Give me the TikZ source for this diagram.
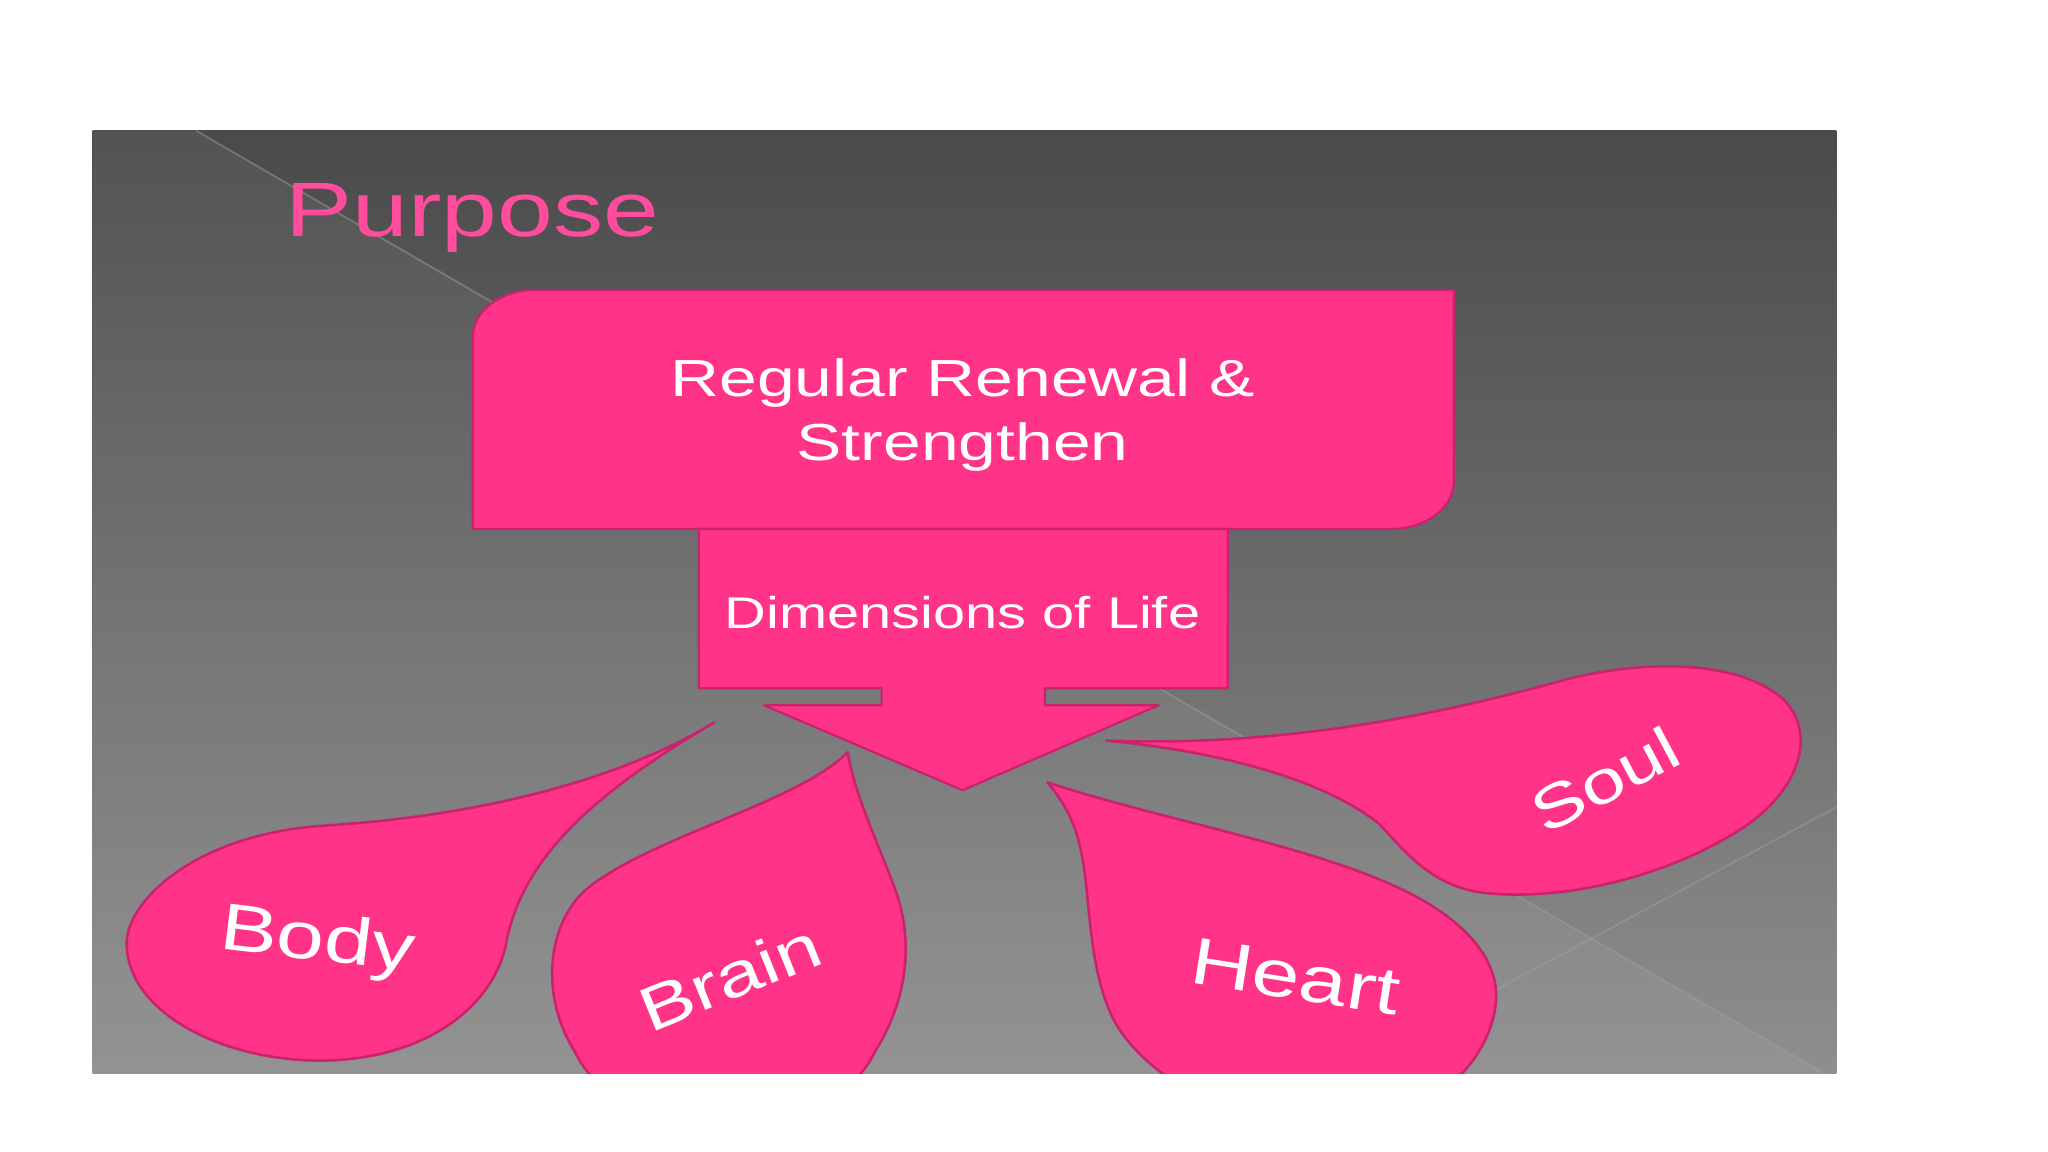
\documentclass[tikz,border=0pt]{standalone}
\usepackage{fontspec}
\setmainfont{Liberation Sans}[FakeStretch=1.3]
\definecolor{pinkfill}{HTML}{FF3388}
\definecolor{pinkline}{HTML}{C8236C}
\definecolor{titlepink}{HTML}{FF4C9C}
\definecolor{bgtop}{HTML}{4A4A4A}
\definecolor{bgbot}{HTML}{8E8E8E}
\definecolor{facet}{HTML}{A0A0A0}
\tikzset{
  shapebox/.style={fill=pinkfill, draw=pinkline, line width=0.6pt, line join=round},
  blob/.style={fill=pinkfill, draw=pinkline, line width=0.7pt, line join=round},
  boxtext/.style={text=white, align=center, font=\fontsize{14.2}{17.4}\selectfont},
  blobtext/.style={text=white, font=\fontsize{18}{20}\selectfont},
  facetline/.style={draw=facet, line width=0.5pt, opacity=0.45}
}
\begin{document}
\begin{tikzpicture}[x=0.0125cm,y=-0.0125cm]
\useasboundingbox (0,0) rectangle (1568,882);
\fill[white] (0,0) rectangle (1568,882);
% slide background
\shade[top color=bgtop, bottom color=bgbot] (71,100) rectangle (1406,822);
\fill[white, opacity=0.05] (71,100) -- (150,100) -- (1397,822) -- (71,822) -- cycle;
\draw[facetline] (150,100) -- (1397,822);
\draw[facetline] (1406,618) -- (1100,782);
% title
\node[text=titlepink, anchor=base west, font=\fontsize{21}{24}\selectfont, inner sep=0pt] (purpose) at (218,181) {Purpose};
% top box
\draw[shapebox] (410,222) -- (1113,222) -- (1113,369) .. controls (1113,389) and (1091.5,405) .. (1065,405) -- (362,405) -- (362,258) .. controls (362,238) and (383.5,222) .. (410,222) -- cycle;
\node[boxtext] (renew) at (737,318) {Regular Renewal \&\\Strengthen};
% arrow
\draw[shapebox] (535,405) -- (940,405) -- (940,527) -- (800,527) -- (800,540) -- (887,540) -- (737,605) -- (585,540) -- (675,540) -- (675,527) -- (535,527) -- cycle;
\node[boxtext, font=\fontsize{12.1}{14}\selectfont] (dims) at (737,469) {Dimensions of Life};
% drops
\begin{scope}
\clip (71,100) rectangle (1406,822);
% Body
\draw[blob] (547,553) .. controls (470,600) and (360,625) .. (250,632)
  .. controls (150,638) and (97,690) .. (97,722)
  .. controls (97,775) and (170,812) .. (245,812)
  .. controls (320,812) and (375,775) .. (387,725)
  .. controls (398,660) and (450,610) .. (547,553) -- cycle;
% Brain
\draw[blob] (649,576) .. controls (610,615) and (500,640) .. (450,680)
  .. controls (420,705) and (412,760) .. (440,805)
  .. controls (475,880) and (635,880) .. (670,805)
  .. controls (695,765) and (700,720) .. (685,680)
  .. controls (670,640) and (655,610) .. (649,576) -- cycle;
% Heart
\draw[blob] (802,599) .. controls (880,625) and (990,645) .. (1060,675)
  .. controls (1120,700) and (1150,735) .. (1145,770)
  .. controls (1140,810) and (1100,860) .. (1020,862)
  .. controls (940,862) and (880,825) .. (855,785)
  .. controls (835,750) and (835,700) .. (830,665)
  .. controls (825,630) and (815,615) .. (802,599) -- cycle;
% Soul
\draw[blob] (847,567) .. controls (980,572) and (1100,548) .. (1200,520)
  .. controls (1260,505) and (1330,505) .. (1365,535)
  .. controls (1390,560) and (1380,600) .. (1340,630)
  .. controls (1290,665) and (1210,690) .. (1140,684)
  .. controls (1095,680) and (1075,650) .. (1055,630)
  .. controls (1010,595) and (930,575) .. (847,567) -- cycle;
\end{scope}
\node[blobtext, rotate=-7] (body) at (243,722) {Body};
\node[blobtext, rotate=22, font=\fontsize{17}{20}\selectfont] (brain) at (559,748) {Brain};
\node[blobtext, rotate=-9] (heart) at (992,748) {Heart};
\node[blobtext, rotate=28, font=\fontsize{16.5}{20}\selectfont] (soul) at (1229,597) {Soul};
\end{tikzpicture}
\end{document}
